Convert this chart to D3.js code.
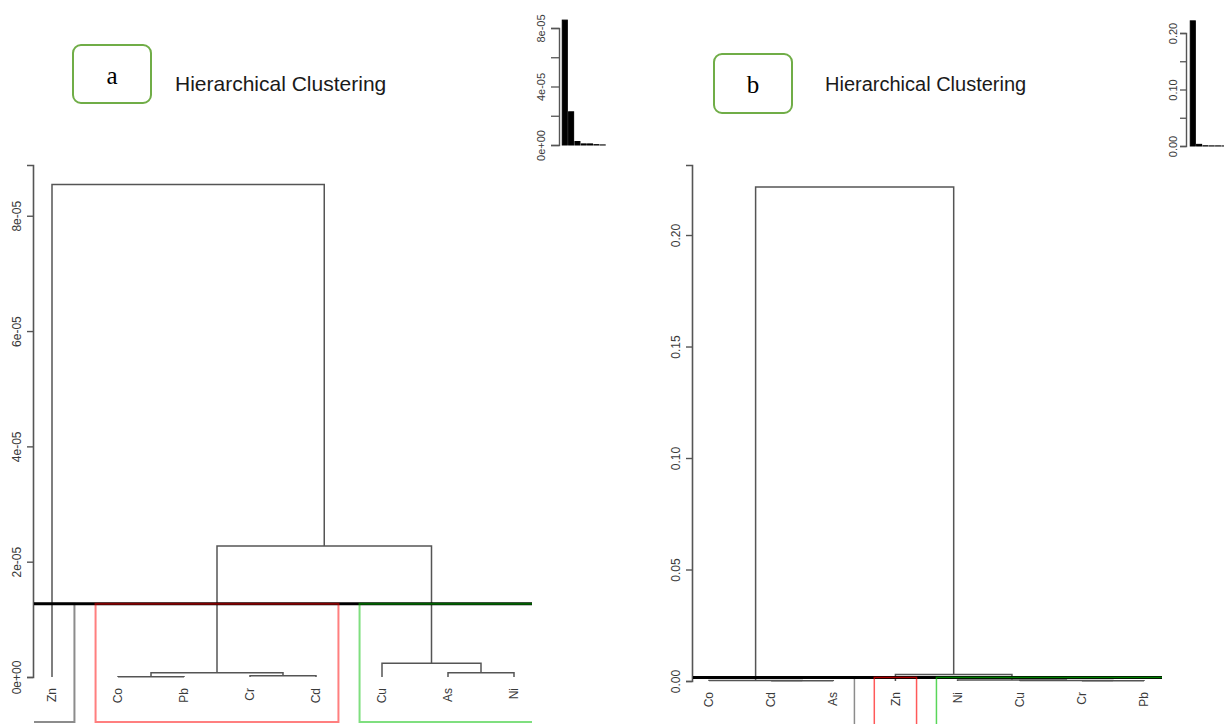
<!DOCTYPE html>
<html><head><meta charset="utf-8">
<script src="https://cdn.jsdelivr.net/npm/d3@7"></script>
<style>body{margin:0;background:#fff}svg{display:block}</style>
</head><body>
<svg id="c" width="1224" height="724"></svg>
<script>
// ---------- Panel a data ----------
const leavesA = ["Zn","Co","Pb","Cr","Cd","Cu","As","Ni"];
// R-style merge matrix: negative = leaf (1-based, display order), positive = earlier merge row
const mergeA = [[-2,-3],[-4,-5],[-7,-8],[1,2],[-6,3],[4,5],[-1,6]];
const heightsA = [0.005e-5, 0.023e-5, 0.075e-5, 0.074e-5, 0.238e-5, 2.27e-5, 8.54e-5];
const clustersA = [1,2,2,2,2,3,3,3];
const cutA = 1.27e-5;
const ticksA = [0, 2e-5, 4e-5, 6e-5, 8e-5];
const tickLabelsA = ["0e+00","2e-05","4e-05","6e-05","8e-05"];
const insetTicksA = [0, 2e-5, 4e-5, 6e-5, 8e-5];
const insetLabelsA = ["0e+00","","4e-05","","8e-05"];

// ---------- Panel b data ----------
const leavesB = ["Co","Cd","As","Zn","Ni","Cu","Cr","Pb"];
const mergeB = [[-2,-3],[-1,1],[-7,-8],[-6,3],[-5,4],[-4,5],[2,6]];
const heightsB = [0.0001, 0.0002, 0.0001, 0.0002, 0.0004, 0.0029, 0.2215];
const clustersB = [1,1,1,2,3,3,3,3];
const cutB = 0.0016;
const ticksB = [0, 0.05, 0.10, 0.15, 0.20];
const tickLabelsB = ["0.00","0.05","0.10","0.15","0.20"];
const insetTicksB = [0, 0.05, 0.10, 0.15, 0.20];
const insetLabelsB = ["0.00","","0.10","","0.20"];

const panelLetters = ["a","b"];
const titleText = "Hierarchical Clustering";
const clusterColors = {1:"#8c8c8c", 2:"#ff0000", 3:"#00c000"};

// ---------- layout ----------
const panels = [
  {letter:panelLetters[0], leaves:leavesA, merge:mergeA, heights:heightsA, clusters:clustersA, cut:cutA,
   ticks:ticksA, tickLabels:tickLabelsA, insetTicks:insetTicksA, insetLabels:insetLabelsA,
   axisX:33, yRange:[677,165], yTop:8.88e-5, xRange:[52,514], clipRight:532, rectBottom:722,
   rectW:2, rectOp:0.5,
   title:{x:175,y:91,size:21}, box:{x:73,y:45,w:78,h:58}, letterY:84,
   inset:{axisX:559, yRange:[145,28], yTop:8e-5, xRange:[561,606.5], tick:8, labelX:541}},
  {letter:panelLetters[1], leaves:leavesB, merge:mergeB, heights:heightsB, clusters:clustersB, cut:cutB,
   ticks:ticksB, tickLabels:tickLabelsB, insetTicks:insetTicksB, insetLabels:insetLabelsB,
   axisX:692, yRange:[681,165], yTop:0.2314, xRange:[709,1144], clipRight:1162, rectBottom:745,
   rectW:1.5, rectOp:0.65,
   title:{x:825,y:91,size:20}, box:{x:714,y:54,w:78,h:59}, letterY:93,
   inset:{axisX:1186, yRange:[146,33], yTop:0.2, xRange:[1189,1234.5], tick:6, labelX:1173}}
];

const svg = d3.select("#c");
const lineCol = "#555";
const textCol = "#3a3a3a";

panels.forEach((p, pi) => {
  const g = svg.append("g");
  const y = d3.scaleLinear().domain([0, p.yTop]).range(p.yRange);
  const x = d3.scalePoint().domain(p.leaves).range(p.xRange);
  const step = x.step();

  // title & letter box
  g.append("text").attr("x", p.title.x).attr("y", p.title.y)
    .attr("font-family","Liberation Sans, Arial, sans-serif").attr("font-size", p.title.size)
    .attr("fill","#1a1a1a").text(titleText);
  g.append("rect").attr("x",p.box.x).attr("y",p.box.y).attr("width",p.box.w).attr("height",p.box.h)
    .attr("rx",8).attr("fill","#fff").attr("stroke","#70ad47").attr("stroke-width",2);
  g.append("text").attr("x",p.box.x+p.box.w/2).attr("y",p.letterY)
    .attr("text-anchor","middle").attr("font-family","Liberation Serif, Times New Roman, serif")
    .attr("font-size",25).attr("fill","#000").text(p.letter);

  // main axis
  const ax = g.append("g").attr("transform",`translate(${p.axisX},0)`)
    .call(d3.axisLeft(y).tickValues(p.ticks).tickFormat((d,i)=>p.tickLabels[i]).tickSizeOuter(0).tickSize(6));
  ax.select(".domain").attr("stroke",lineCol).attr("stroke-width",1.6);
  ax.selectAll(".tick line").attr("stroke",lineCol).attr("stroke-width",1.4);
  ax.selectAll(".tick text").attr("x",0).attr("dy",0)
    .attr("transform","translate(-12,0) rotate(-90)")
    .attr("text-anchor","middle").attr("font-family","Liberation Sans, Arial, sans-serif")
    .attr("font-size",12).attr("fill",textCol);

  // clip for dendrogram area
  const cid = "clip"+pi;
  svg.append("clipPath").attr("id",cid).append("rect")
    .attr("x",p.axisX+1).attr("y",0).attr("width",p.clipRight-p.axisX-1).attr("height",724);
  const dg = g.append("g").attr("clip-path",`url(#${cid})`);

  // compute nodes
  const nodes = [];
  const pos = (k) => k < 0 ? {x:x(p.leaves[-k-1]), h:0} : nodes[k-1];
  p.merge.forEach((m,i) => {
    const a = pos(m[0]), b = pos(m[1]);
    nodes.push({x:(a.x+b.x)/2, h:p.heights[i], a, b});
  });
  dg.selectAll("path.link").data(nodes).join("path").attr("class","link")
    .attr("d", n => `M${n.a.x},${y(n.a.h)}V${y(n.h)}H${n.b.x}V${y(n.b.h)}`)
    .attr("fill","none").attr("stroke",lineCol).attr("stroke-width",1.5);

  // cluster rectangles: gray one beneath the cut line, coloured ones above it (semi-transparent)
  const groups = d3.groups(p.leaves.map((l,i)=>({l,c:p.clusters[i]})), d=>d.c);
  const drawRect = ([c, arr], op) => {
    const x0 = x(arr[0].l) - step*0.34, x1 = x(arr[arr.length-1].l) + step*0.34;
    dg.append("rect").attr("x",x0).attr("y",y(p.cut)).attr("width",x1-x0).attr("height",p.rectBottom-y(p.cut))
      .attr("fill","none").attr("stroke",clusterColors[c]).attr("stroke-opacity",op)
      .attr("stroke-width",p.rectW);
  };
  groups.filter(gr => gr[0] === 1).forEach(gr => drawRect(gr, 1));

  // cut line
  dg.append("line").attr("x1",p.axisX).attr("x2",p.clipRight).attr("y1",y(p.cut)).attr("y2",y(p.cut))
    .attr("stroke","#000").attr("stroke-width",3);

  groups.filter(gr => gr[0] !== 1).forEach(gr => drawRect(gr, p.rectOp));

  // leaf labels
  g.selectAll("text.leaf").data(p.leaves).join("text").attr("class","leaf")
    .attr("transform", d => `translate(${x(d)},${y(0)+11}) rotate(-90)`)
    .attr("dy","0.35em").attr("text-anchor","end")
    .attr("font-family","Liberation Sans, Arial, sans-serif").attr("font-size",12)
    .attr("fill",textCol).text(d=>d);

  // inset bar chart of merge heights
  const ins = p.inset;
  const bars = p.heights.slice().sort((a,b)=>b-a);
  const yi = d3.scaleLinear().domain([0, ins.yTop]).range(ins.yRange);
  const xi = d3.scaleBand().domain(d3.range(bars.length)).range(ins.xRange).padding(0.2);
  const iax = g.append("g").attr("transform",`translate(${ins.axisX},0)`)
    .call(d3.axisLeft(yi).tickValues(p.insetTicks).tickFormat((d,i)=>p.insetLabels[i]).tickSizeOuter(0).tickSize(ins.tick));
  iax.select(".domain").attr("stroke",lineCol).attr("stroke-width",1.4);
  iax.selectAll(".tick line").attr("stroke",lineCol).attr("stroke-width",1.3);
  iax.selectAll(".tick text").attr("x",0).attr("dy",0)
    .attr("transform",`translate(${ins.labelX-ins.axisX+4},0) rotate(-90)`)
    .attr("text-anchor","middle").attr("font-family","Liberation Sans, Arial, sans-serif")
    .attr("font-size",11).attr("fill",textCol);
  g.selectAll("rect.bar").data(bars).join("rect").attr("class","bar")
    .attr("x",(d,i)=>xi(i)).attr("width",xi.bandwidth())
    .attr("y",d=>yi(d)).attr("height",d=>yi(0)-yi(d))
    .attr("fill","#000").attr("stroke","#000").attr("stroke-width",1);
});
</script>
</body></html>
